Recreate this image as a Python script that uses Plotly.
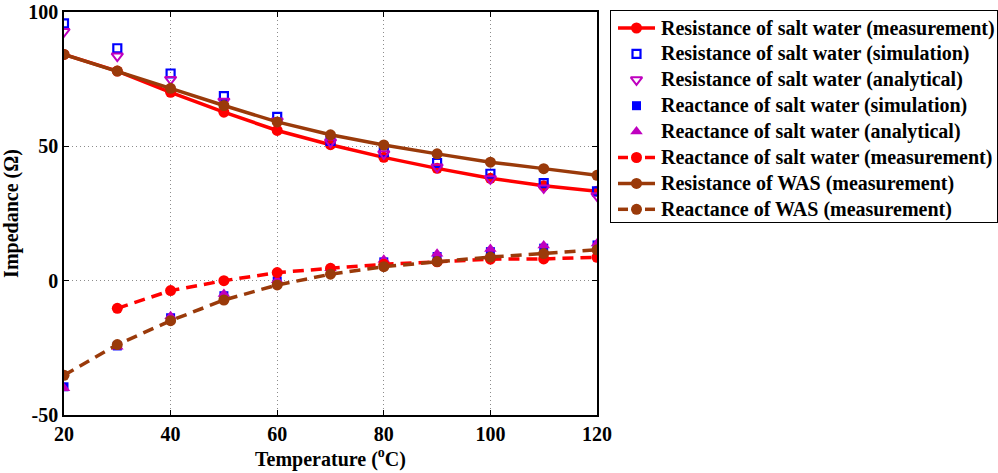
import plotly.graph_objects as go

# Temperature sweep (°C)
temperature = [20, 30, 40, 50, 60, 70, 80, 90, 100, 110, 120]

# Impedance components (Ohm)
res_sw_meas = [84.2, 78.0, 70.1, 62.7, 55.9, 50.6, 45.9, 41.8, 38.1, 35.3, 33.3]
res_sw_sim = [95.8, 86.5, 77.1, 68.7, 61.0, 52.0, 47.8, 43.8, 39.8, 36.3, 33.2]
res_sw_ana = [92.7, 83.6, 74.9, 66.8, 59.4, 51.6, 47.2, 42.3, 37.9, 34.5, 31.6]
rea_sw_sim = [-39.5, -24.3, -13.8, -5.6, -0.1, 3.8, 7.0, 9.0, 10.8, 12.1, 13.3]
rea_sw_ana = [-40.0, -24.6, -13.2, -5.0, 0.2, 4.6, 7.8, 10.0, 11.8, 13.1, 13.8]
rea_sw_meas = [None, -10.3, -3.7, 0.0, 3.0, 4.6, 6.1, 7.0, 8.0, 8.1, 8.7]
res_was_meas = [84.2, 78.0, 71.6, 65.2, 59.1, 54.3, 50.5, 47.2, 44.1, 41.7, 39.2]
rea_was_meas = [-35.2, -23.8, -14.9, -7.2, -1.6, 2.4, 5.2, 7.1, 8.8, 10.1, 11.5]

series_names = [
    "Resistance of salt water (measurement)",
    "Resistance of salt water (simulation)",
    "Resistance of salt water (analytical)",
    "Reactance of salt water (simulation)",
    "Reactance of salt water (analytical)",
    "Reactance of salt water (measurement)",
    "Resistance of WAS (measurement)",
    "Reactance of WAS (measurement)",
]

RED = "#FF0000"
BLUE = "#0000FF"
MAGENTA = "#BF00BF"
BROWN = "#9A3A0A"
FONT = "Liberation Serif"
LW = 3.5
DASH = "11px,7px"

# style per series: (values, mode, line colour, dash, marker dict)
styles = [
    (res_sw_meas, "lines+markers", RED, "solid",
     dict(symbol="circle", size=11, color=RED)),
    (res_sw_sim, "markers", None, None,
     dict(symbol="square-open", size=8, color=BLUE, line=dict(width=2.2))),
    (res_sw_ana, "markers", None, None,
     dict(symbol="triangle-down-open", size=10, color=MAGENTA, line=dict(width=2))),
    (rea_sw_sim, "markers", None, None,
     dict(symbol="square", size=9, color=BLUE)),
    (rea_sw_ana, "markers", None, None,
     dict(symbol="triangle-up", size=11, color=MAGENTA)),
    (rea_sw_meas, "lines+markers", RED, DASH,
     dict(symbol="circle", size=11, color=RED)),
    (res_was_meas, "lines+markers", BROWN, "solid",
     dict(symbol="circle", size=11, color=BROWN)),
    (rea_was_meas, "lines+markers", BROWN, DASH,
     dict(symbol="circle", size=11, color=BROWN)),
]

fig = go.Figure()

for name, (vals, mode, lc, dash, mk) in zip(series_names, styles):
    kw = dict(x=temperature, y=vals, mode=mode, name=name,
              marker=mk, showlegend=False, xaxis="x", yaxis="y")
    if lc is not None:
        kw["line"] = dict(color=lc, width=LW, dash=dash)
    fig.add_trace(go.Scatter(**kw))

# Legend panel on its own pixel-scaled axes
LEG_W, LEG_H = 386, 211
row_y = [17 + 25.9 * i for i in range(len(series_names))]
sym_l, sym_r, sym_c = 7, 44, 25.5

for name, (vals, mode, lc, dash, mk), yc in zip(series_names, styles, row_y):
    if lc is not None:
        if dash == "solid":
            lx, ly = [sym_l, sym_r], [yc, yc]
        else:
            lx, ly = [sym_l, sym_l + 10, None, sym_r - 10, sym_r], [yc, yc, None, yc, yc]
        fig.add_trace(go.Scatter(x=lx, y=ly, mode="lines", xaxis="x2", yaxis="y2",
                                 line=dict(color=lc, width=LW), showlegend=False,
                                 hoverinfo="skip", cliponaxis=False))
    fig.add_trace(go.Scatter(x=[sym_c], y=[yc], mode="markers", xaxis="x2", yaxis="y2",
                             marker=mk, showlegend=False, hoverinfo="skip",
                             cliponaxis=False))
    fig.add_annotation(x=48, y=yc, xref="x2", yref="y2", text="<b>%s</b>" % name,
                       showarrow=False, xanchor="left", yanchor="middle",
                       font=dict(family=FONT, size=20, color="black", weight="bold"))

axis_common = dict(
    showline=True, linecolor="black", linewidth=1.5, mirror="ticks",
    ticks="inside", ticklen=5, tickcolor="black",
    showgrid=True, gridcolor="#8c8c8c", griddash="1px,3px", gridwidth=1,
    zeroline=False,
    tickfont=dict(family=FONT, size=20, color="black", weight="bold"),
)

W, H = 998, 473
ML, MR, MT, MB = 64, 1, 11, 58
area_w = W - ML - MR
area_h = H - MT - MB
plot_right = 597
plot_top = 12
leg_left, leg_bottom = 611, 222

xticks = [20, 40, 60, 80, 100, 120]
yticks = [-50, 0, 50, 100]

fig.update_layout(
    xaxis=dict(
        domain=[0, (plot_right - ML) / area_w],
        range=[20, 120], tickmode="array", tickvals=xticks,
        ticktext=["<b>%d</b>" % v for v in xticks],
        title=dict(text="<b>Temperature (<sup>o</sup>C)</b>",
                   font=dict(family=FONT, size=20, color="black"), standoff=8),
        anchor="y", **axis_common),
    yaxis=dict(
        domain=[0, (H - MB - plot_top) / area_h],
        range=[-50, 100], tickmode="array", tickvals=yticks,
        ticktext=["<b>%d</b>" % v for v in yticks],
        title=dict(text="<b>Impedance (Ω)</b>",
                   font=dict(family=FONT, size=20, color="black"), standoff=10),
        anchor="x", **axis_common),
    xaxis2=dict(
        domain=[(leg_left - ML) / area_w, 1], range=[0, LEG_W],
        showline=True, mirror=True, linecolor="black", linewidth=1,
        showgrid=False, zeroline=False, showticklabels=False, ticks="",
        anchor="y2", fixedrange=True),
    yaxis2=dict(
        domain=[(H - MB - leg_bottom) / area_h, 1], range=[LEG_H, 0],
        showline=True, mirror=True, linecolor="black", linewidth=1,
        showgrid=False, zeroline=False, showticklabels=False, ticks="",
        anchor="x2", fixedrange=True),
    width=W, height=H,
    margin=dict(l=ML, r=MR, t=MT, b=MB, autoexpand=False),
    paper_bgcolor="white", plot_bgcolor="white",
    font=dict(family=FONT, color="black"),
    showlegend=False,
)

fig.write_html("out.html")
